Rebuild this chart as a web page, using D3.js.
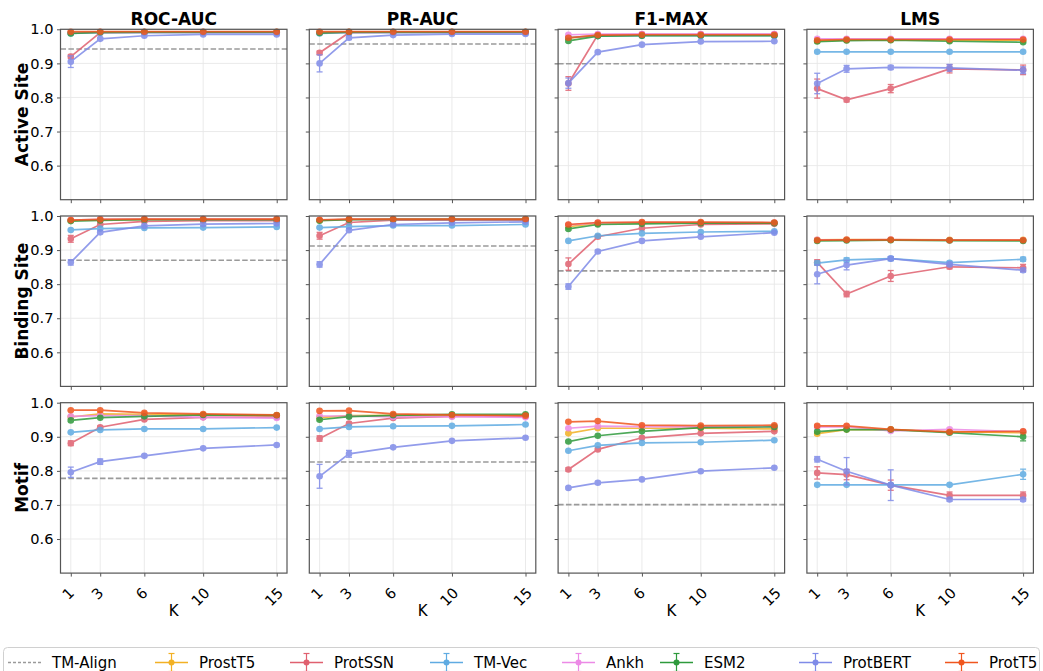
<!DOCTYPE html>
<html>
<head>
<meta charset="utf-8">
<script src="https://cdn.jsdelivr.net/npm/d3@7"></script>
<style>
  body { margin: 0; background: #fff; }
  svg { display: block; }
  text { font-family: "DejaVu Sans", sans-serif; fill: #000; }
</style>
</head>
<body>
<svg id="chart" width="1043" height="671"></svg>
<script>
// ---- data -------------------------------------------------------------
const K = [1, 3, 6, 10, 15];
const models = ["ProstT5", "ProtSSN", "TM-Vec", "Ankh", "ESM2", "ProtBERT", "ProtT5"];
const modelColors = ["#f2b124", "#e0606f", "#5fabe2", "#ec8ae6", "#2e9a3c", "#7f8be8", "#f0561e"];
const metrics = ["ROC-AUC", "PR-AUC", "F1-MAX", "LMS"];
const tasks = ["Active Site", "Binding Site", "Motif"];
const yTicks = [0.6, 0.7, 0.8, 0.9, 1.0];

// TM-Align baseline per task, one value per metric (none for LMS)
const tmAlignActive  = [0.942, 0.957, 0.899, null];
const tmAlignBinding = [0.870, 0.912, 0.839, null];
const tmAlignMotif   = [0.778, 0.826, 0.701, null];

// Rows follow the order of `models`; columns follow K.
const activeRoc = [
  [0.990, 0.992, 0.992, 0.992, 0.992],
  [0.920, 0.990, 0.991, 0.991, 0.991],
  [0.988, 0.990, 0.990, 0.990, 0.990],
  [0.990, 0.992, 0.992, 0.992, 0.992],
  [0.988, 0.991, 0.992, 0.992, 0.992],
  [0.905, 0.972, 0.981, 0.985, 0.985],
  [0.993, 0.993, 0.993, 0.993, 0.993]
];
const activeRocErr = [
  [0.002, 0.001, 0.001, 0.001, 0.001],
  [0.006, 0.002, 0.001, 0.001, 0.001],
  [0.002, 0.001, 0.001, 0.001, 0.001],
  [0.002, 0.001, 0.001, 0.001, 0.001],
  [0.002, 0.001, 0.001, 0.001, 0.001],
  [0.017, 0.004, 0.002, 0.002, 0.002],
  [0.002, 0.001, 0.001, 0.001, 0.001]
];
const activePr = [
  [0.991, 0.992, 0.992, 0.992, 0.992],
  [0.931, 0.990, 0.991, 0.991, 0.991],
  [0.988, 0.990, 0.990, 0.990, 0.990],
  [0.990, 0.992, 0.992, 0.992, 0.992],
  [0.989, 0.992, 0.992, 0.992, 0.992],
  [0.900, 0.975, 0.983, 0.986, 0.986],
  [0.993, 0.993, 0.993, 0.993, 0.993]
];
const activePrErr = [
  [0.002, 0.001, 0.001, 0.001, 0.001],
  [0.005, 0.002, 0.001, 0.001, 0.001],
  [0.002, 0.001, 0.001, 0.001, 0.001],
  [0.002, 0.001, 0.001, 0.001, 0.001],
  [0.002, 0.001, 0.001, 0.001, 0.001],
  [0.025, 0.005, 0.003, 0.002, 0.002],
  [0.002, 0.001, 0.001, 0.001, 0.001]
];
const activeF1 = [
  [0.975, 0.982, 0.983, 0.983, 0.983],
  [0.841, 0.984, 0.985, 0.985, 0.985],
  [0.976, 0.980, 0.981, 0.981, 0.981],
  [0.984, 0.986, 0.986, 0.986, 0.986],
  [0.966, 0.980, 0.981, 0.981, 0.981],
  [0.842, 0.933, 0.955, 0.964, 0.965],
  [0.975, 0.983, 0.984, 0.984, 0.984]
];
const activeF1Err = [
  [0.003, 0.002, 0.001, 0.001, 0.001],
  [0.020, 0.002, 0.001, 0.001, 0.001],
  [0.002, 0.001, 0.001, 0.001, 0.001],
  [0.002, 0.001, 0.001, 0.001, 0.001],
  [0.003, 0.002, 0.001, 0.001, 0.001],
  [0.015, 0.003, 0.002, 0.002, 0.002],
  [0.002, 0.001, 0.001, 0.001, 0.001]
];
const activeLms = [
  [0.966, 0.968, 0.969, 0.968, 0.968],
  [0.826, 0.793, 0.826, 0.884, 0.881],
  [0.934, 0.934, 0.934, 0.934, 0.934],
  [0.972, 0.972, 0.972, 0.972, 0.972],
  [0.964, 0.967, 0.968, 0.965, 0.962],
  [0.841, 0.884, 0.888, 0.887, 0.880],
  [0.968, 0.970, 0.970, 0.970, 0.970]
];
const activeLmsErr = [
  [0.002, 0.002, 0.002, 0.002, 0.002],
  [0.028, 0.006, 0.012, 0.012, 0.014],
  [0.002, 0.002, 0.002, 0.002, 0.002],
  [0.002, 0.002, 0.002, 0.002, 0.002],
  [0.003, 0.002, 0.002, 0.002, 0.003],
  [0.030, 0.010, 0.006, 0.010, 0.010],
  [0.002, 0.002, 0.002, 0.002, 0.002]
];

const bindingRoc = [
  [0.987, 0.989, 0.990, 0.990, 0.990],
  [0.933, 0.975, 0.984, 0.986, 0.986],
  [0.959, 0.963, 0.965, 0.966, 0.968],
  [0.988, 0.990, 0.991, 0.991, 0.991],
  [0.985, 0.987, 0.989, 0.989, 0.989],
  [0.864, 0.952, 0.971, 0.976, 0.978],
  [0.988, 0.990, 0.991, 0.991, 0.991]
];
const bindingRocErr = [
  [0.002, 0.001, 0.001, 0.001, 0.001],
  [0.010, 0.003, 0.002, 0.001, 0.001],
  [0.002, 0.001, 0.001, 0.001, 0.001],
  [0.002, 0.001, 0.001, 0.001, 0.001],
  [0.002, 0.001, 0.001, 0.001, 0.001],
  [0.008, 0.004, 0.002, 0.002, 0.002],
  [0.002, 0.001, 0.001, 0.001, 0.001]
];
const bindingPr = [
  [0.987, 0.990, 0.990, 0.990, 0.990],
  [0.942, 0.981, 0.988, 0.988, 0.988],
  [0.966, 0.969, 0.972, 0.972, 0.975],
  [0.988, 0.990, 0.990, 0.990, 0.990],
  [0.986, 0.989, 0.990, 0.990, 0.990],
  [0.858, 0.958, 0.975, 0.980, 0.983],
  [0.989, 0.991, 0.991, 0.991, 0.991]
];
const bindingPrErr = [
  [0.002, 0.001, 0.001, 0.001, 0.001],
  [0.010, 0.003, 0.002, 0.001, 0.001],
  [0.002, 0.001, 0.001, 0.001, 0.001],
  [0.002, 0.001, 0.001, 0.001, 0.001],
  [0.002, 0.001, 0.001, 0.001, 0.001],
  [0.008, 0.004, 0.002, 0.002, 0.002],
  [0.002, 0.001, 0.001, 0.001, 0.001]
];
const bindingF1 = [
  [0.969, 0.978, 0.980, 0.980, 0.980],
  [0.859, 0.939, 0.964, 0.975, 0.977],
  [0.927, 0.942, 0.949, 0.953, 0.955],
  [0.974, 0.980, 0.981, 0.981, 0.981],
  [0.962, 0.975, 0.977, 0.979, 0.979],
  [0.793, 0.896, 0.927, 0.939, 0.951],
  [0.975, 0.981, 0.982, 0.982, 0.981]
];
const bindingF1Err = [
  [0.003, 0.002, 0.001, 0.001, 0.001],
  [0.018, 0.003, 0.002, 0.001, 0.001],
  [0.002, 0.002, 0.001, 0.001, 0.001],
  [0.002, 0.001, 0.001, 0.001, 0.001],
  [0.003, 0.002, 0.001, 0.001, 0.001],
  [0.008, 0.004, 0.002, 0.002, 0.002],
  [0.002, 0.001, 0.001, 0.001, 0.001]
];
const bindingLms = [
  [0.930, 0.931, 0.931, 0.930, 0.930],
  [0.864, 0.771, 0.824, 0.851, 0.848],
  [0.862, 0.871, 0.875, 0.863, 0.873],
  [0.930, 0.930, 0.931, 0.929, 0.929],
  [0.927, 0.928, 0.929, 0.928, 0.927],
  [0.829, 0.856, 0.875, 0.858, 0.841],
  [0.929, 0.930, 0.930, 0.929, 0.929]
];
const bindingLmsErr = [
  [0.002, 0.002, 0.002, 0.002, 0.002],
  [0.008, 0.008, 0.016, 0.006, 0.010],
  [0.006, 0.006, 0.006, 0.004, 0.006],
  [0.002, 0.002, 0.002, 0.002, 0.002],
  [0.002, 0.002, 0.002, 0.002, 0.002],
  [0.028, 0.014, 0.006, 0.006, 0.006],
  [0.002, 0.002, 0.002, 0.002, 0.002]
];

const motifRoc = [
  [0.958, 0.967, 0.966, 0.964, 0.962],
  [0.881, 0.928, 0.951, 0.957, 0.958],
  [0.913, 0.920, 0.923, 0.923, 0.927],
  [0.960, 0.962, 0.962, 0.957, 0.955],
  [0.948, 0.956, 0.960, 0.964, 0.963],
  [0.796, 0.827, 0.844, 0.866, 0.876],
  [0.978, 0.978, 0.970, 0.967, 0.964]
];
const motifRocErr = [
  [0.002, 0.002, 0.002, 0.002, 0.002],
  [0.007, 0.004, 0.002, 0.002, 0.002],
  [0.002, 0.002, 0.002, 0.002, 0.002],
  [0.002, 0.002, 0.002, 0.002, 0.002],
  [0.003, 0.002, 0.002, 0.002, 0.002],
  [0.015, 0.008, 0.003, 0.002, 0.002],
  [0.002, 0.002, 0.002, 0.002, 0.002]
];
const motifPr = [
  [0.956, 0.962, 0.963, 0.963, 0.962],
  [0.895, 0.939, 0.955, 0.960, 0.960],
  [0.923, 0.929, 0.931, 0.932, 0.936],
  [0.961, 0.961, 0.958, 0.959, 0.957],
  [0.950, 0.959, 0.963, 0.966, 0.966],
  [0.784, 0.850, 0.869, 0.888, 0.897],
  [0.976, 0.977, 0.967, 0.964, 0.962]
];
const motifPrErr = [
  [0.002, 0.002, 0.002, 0.002, 0.002],
  [0.008, 0.004, 0.002, 0.002, 0.002],
  [0.002, 0.002, 0.002, 0.002, 0.002],
  [0.002, 0.002, 0.002, 0.002, 0.002],
  [0.003, 0.002, 0.002, 0.002, 0.002],
  [0.035, 0.010, 0.003, 0.002, 0.002],
  [0.002, 0.002, 0.002, 0.002, 0.002]
];
const motifF1 = [
  [0.910, 0.925, 0.925, 0.925, 0.923],
  [0.804, 0.863, 0.897, 0.910, 0.916],
  [0.859, 0.875, 0.882, 0.884, 0.890],
  [0.925, 0.931, 0.930, 0.929, 0.930],
  [0.886, 0.903, 0.916, 0.927, 0.929],
  [0.750, 0.765, 0.775, 0.799, 0.809],
  [0.944, 0.946, 0.934, 0.933, 0.934]
];
const motifF1Err = [
  [0.003, 0.002, 0.002, 0.002, 0.002],
  [0.005, 0.004, 0.002, 0.002, 0.002],
  [0.002, 0.002, 0.002, 0.002, 0.002],
  [0.002, 0.002, 0.002, 0.002, 0.002],
  [0.003, 0.002, 0.002, 0.002, 0.002],
  [0.003, 0.004, 0.002, 0.002, 0.002],
  [0.002, 0.002, 0.002, 0.002, 0.002]
];
const motifLms = [
  [0.909, 0.921, 0.921, 0.915, 0.912],
  [0.794, 0.789, 0.758, 0.728, 0.728],
  [0.759, 0.759, 0.759, 0.759, 0.790],
  [0.929, 0.930, 0.917, 0.922, 0.915],
  [0.915, 0.921, 0.921, 0.912, 0.900],
  [0.834, 0.799, 0.758, 0.716, 0.716],
  [0.932, 0.932, 0.922, 0.914, 0.916]
];
const motifLmsErr = [
  [0.004, 0.002, 0.002, 0.002, 0.002],
  [0.018, 0.015, 0.015, 0.010, 0.010],
  [0.002, 0.002, 0.002, 0.002, 0.015],
  [0.003, 0.002, 0.003, 0.003, 0.002],
  [0.003, 0.002, 0.002, 0.003, 0.012],
  [0.008, 0.040, 0.045, 0.005, 0.005],
  [0.003, 0.002, 0.002, 0.002, 0.002]
];

// ---- panel grid -------------------------------------------------------
const panelValues = [
  [activeRoc, activePr, activeF1, activeLms],
  [bindingRoc, bindingPr, bindingF1, bindingLms],
  [motifRoc, motifPr, motifF1, motifLms]
];
const panelErrors = [
  [activeRocErr, activePrErr, activeF1Err, activeLmsErr],
  [bindingRocErr, bindingPrErr, bindingF1Err, bindingLmsErr],
  [motifRocErr, motifPrErr, motifF1Err, motifLmsErr]
];
const tmAlignRows = [tmAlignActive, tmAlignBinding, tmAlignMotif];

const plotLeft = 60.5, plotTop = 29.3;
const panelW = 226.5, panelH = 170.4, gapX = 22.3, gapY = 16.3;
const axisColor = "#555";
const tickFont = 14.6;

const svg = d3.select("#chart");
const x = d3.scaleLinear().domain([0.3, 15.7]).range([0, panelW]);
const y = d3.scaleLinear().domain([0.5, 1.0]).range([panelH, 0]);
const line = d3.line().x((d, i) => x(K[i])).y(d => y(d));

tasks.forEach((task, r) => {
  metrics.forEach((metric, c) => {
    const g = svg.append("g")
      .attr("transform", `translate(${plotLeft + c * (panelW + gapX)},${plotTop + r * (panelH + gapY)})`);

    // grid
    g.append("g").selectAll("line").data(K).join("line")
      .attr("x1", d => x(d)).attr("x2", d => x(d))
      .attr("y1", 0).attr("y2", panelH)
      .attr("stroke", "#e8e8e8").attr("stroke-width", 0.9);
    g.append("g").selectAll("line").data(yTicks).join("line")
      .attr("x1", 0).attr("x2", panelW)
      .attr("y1", d => y(d)).attr("y2", d => y(d))
      .attr("stroke", "#e8e8e8").attr("stroke-width", 0.9);

    // TM-Align baseline
    const base = tmAlignRows[r][c];
    if (base !== null) {
      g.append("line")
        .attr("x1", 0).attr("x2", panelW)
        .attr("y1", y(base)).attr("y2", y(base))
        .attr("stroke", "#9a9a9a").attr("stroke-width", 1.6)
        .attr("stroke-dasharray", "5.5,2.4");
    }

    // series
    const vals = panelValues[r][c];
    const errs = panelErrors[r][c];
    models.forEach((m, s) => {
      const color = modelColors[s];
      const sg = g.append("g").attr("opacity", 0.85);
      const pts = vals[s].map((v, i) => ({ k: K[i], v, e: errs[s][i] }));
      // error bars
      sg.selectAll("line.bar").data(pts).join("line").attr("class", "bar")
        .attr("x1", d => x(d.k)).attr("x2", d => x(d.k))
        .attr("y1", d => y(d.v - d.e)).attr("y2", d => y(d.v + d.e))
        .attr("stroke", color).attr("stroke-width", 1.3);
      ["lo", "hi"].forEach(side => {
        sg.selectAll(`line.cap-${side}`).data(pts).join("line").attr("class", `cap-${side}`)
          .attr("x1", d => x(d.k) - 3).attr("x2", d => x(d.k) + 3)
          .attr("y1", d => y(side === "lo" ? d.v - d.e : d.v + d.e))
          .attr("y2", d => y(side === "lo" ? d.v - d.e : d.v + d.e))
          .attr("stroke", color).attr("stroke-width", 1.3);
      });
      sg.append("path").datum(vals[s]).attr("d", line)
        .attr("fill", "none").attr("stroke", color).attr("stroke-width", 1.7);
      sg.selectAll("circle").data(pts).join("circle")
        .attr("cx", d => x(d.k)).attr("cy", d => y(d.v)).attr("r", 3.3)
        .attr("fill", color);
    });

    // frame
    g.append("rect").attr("width", panelW).attr("height", panelH)
      .attr("fill", "none").attr("stroke", axisColor).attr("stroke-width", 1.2);

    // y axis
    const ya = g.append("g").call(
      d3.axisLeft(y).tickValues(yTicks).tickSize(3.5).tickPadding(3.5)
        .tickFormat(c === 0 ? d3.format(".1f") : () => ""));
    ya.select(".domain").remove();
    ya.selectAll(".tick line").attr("stroke", axisColor).attr("stroke-width", 1);
    ya.selectAll(".tick text").style("font-size", tickFont + "px")
      .style("font-family", "DejaVu Sans").attr("fill", "#222");

    // x axis
    const xa = g.append("g").attr("transform", `translate(0,${panelH})`).call(
      d3.axisBottom(x).tickValues(K).tickSize(3.5).tickFormat(""));
    xa.select(".domain").remove();
    xa.selectAll(".tick line").attr("stroke", axisColor).attr("stroke-width", 1);

    if (r === tasks.length - 1) {
      K.forEach(k => {
        const label = String(k);
        const w = label.length * 0.636 * tickFont;
        const h = 1.16 * tickFont;
        const half = (w + h) / Math.SQRT2 / 2;
        g.append("text")
          .attr("transform", `translate(${x(k) - 3},${panelH + 11 + half}) rotate(-45)`)
          .attr("text-anchor", "middle").attr("dominant-baseline", "central")
          .style("font-size", tickFont + "px").attr("fill", "#222")
          .text(label);
      });
      g.append("text")
        .attr("x", panelW / 2).attr("y", panelH + 43)
        .attr("text-anchor", "middle")
        .style("font-size", "15px")
        .text("K");
    }

    if (r === 0) {
      g.append("text")
        .attr("x", panelW / 2).attr("y", -4)
        .attr("text-anchor", "middle")
        .style("font-size", "17px").style("font-weight", "bold")
        .text(metric);
    }
    if (c === 0) {
      g.append("text")
        .attr("transform", `translate(${22 - plotLeft},${panelH / 2}) rotate(-90)`)
        .attr("text-anchor", "middle").attr("dominant-baseline", "central")
        .style("font-size", "17px").style("font-weight", "bold")
        .text(task);
    }
  });
});

// ---- legend -----------------------------------------------------------
const legendItems = [{ name: "TM-Align", color: "#9a9a9a", dashed: true }]
  .concat(models.map((m, i) => ({ name: m, color: modelColors[i], dashed: false })));
// left edge of each legend entry
const legendSlots = [8, 155, 290, 430, 562, 660, 799, 945];
const legend = svg.append("g");
legend.append("rect")
  .attr("x", 3.5).attr("y", 647.5).attr("width", 1036).attr("height", 32)
  .attr("rx", 4).attr("fill", "#fff").attr("stroke", "#d0d0d0").attr("stroke-width", 1);

const legendY = 662.5;
legendItems.forEach((item, i) => {
  const ig = legend.append("g").attr("transform", `translate(${legendSlots[i]},${legendY})`);
  if (item.dashed) {
    ig.append("line").attr("x1", 0).attr("x2", 33).attr("y1", 0).attr("y2", 0)
      .attr("stroke", item.color).attr("stroke-width", 1.6).attr("stroke-dasharray", "3,2");
  } else {
    ig.append("line").attr("x1", 0).attr("x2", 33).attr("y1", 0).attr("y2", 0)
      .attr("stroke", item.color).attr("stroke-width", 1.7);
    ig.append("line").attr("x1", 16.5).attr("x2", 16.5).attr("y1", -9).attr("y2", 9)
      .attr("stroke", item.color).attr("stroke-width", 1.2);
    [-9, 9].forEach(dy => ig.append("line")
      .attr("x1", 13.5).attr("x2", 19.5).attr("y1", dy).attr("y2", dy)
      .attr("stroke", item.color).attr("stroke-width", 1.2));
    ig.append("circle").attr("cx", 16.5).attr("cy", 0).attr("r", 3).attr("fill", item.color);
  }
  ig.append("text").attr("x", 44).attr("y", 0)
    .attr("dominant-baseline", "central")
    .style("font-size", "15px").text(item.name);
});
</script>
</body>
</html>
